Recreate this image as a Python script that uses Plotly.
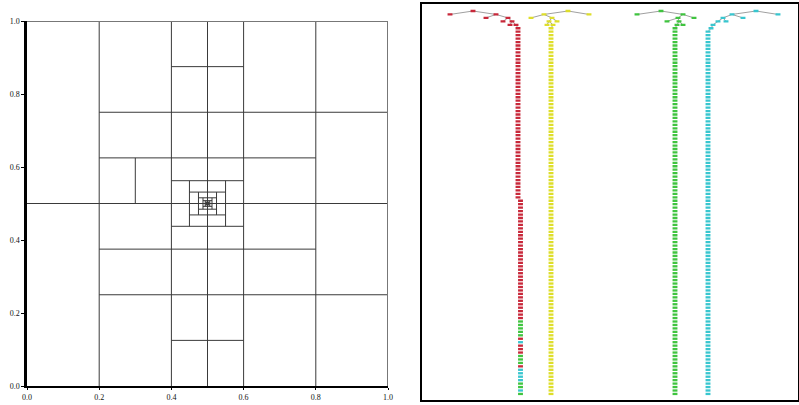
import plotly.graph_objects as go

# ---------------- left panel: partition segments ----------------
vert_x  = [0.2, 0.4, 0.5, 0.6, 0.8, 0.3, 0.45, 0.55, 0.475, 0.525, 0.4875, 0.5125,
           0.49375, 0.50625, 0.496875, 0.503125, 0.4984375, 0.5015625]
vert_y0 = [0, 0, 0, 0, 0, 0.5, 0.4375, 0.4375, 0.46875, 0.46875, 0.484375, 0.484375,
           0.4921875, 0.4921875, 0.49609375, 0.49609375, 0.498046875, 0.498046875]
vert_y1 = [1, 1, 1, 1, 1, 0.625, 0.5625, 0.5625, 0.53125, 0.53125, 0.515625, 0.515625,
           0.5078125, 0.5078125, 0.50390625, 0.50390625, 0.501953125, 0.501953125]

horiz_y  = [0.5, 0.75, 0.25, 0.625, 0.375, 0.875, 0.125, 0.5625, 0.4375, 0.53125, 0.46875,
            0.515625, 0.484375, 0.5078125, 0.4921875, 0.50390625, 0.49609375,
            0.501953125, 0.498046875]
horiz_x0 = [0, 0.2, 0.2, 0.2, 0.2, 0.4, 0.4, 0.4, 0.4, 0.45, 0.45, 0.475, 0.475,
            0.4875, 0.4875, 0.49375, 0.49375, 0.496875, 0.496875]
horiz_x1 = [1, 1, 1, 0.8, 0.8, 0.6, 0.6, 0.6, 0.6, 0.55, 0.55, 0.525, 0.525,
            0.5125, 0.5125, 0.50625, 0.50625, 0.503125, 0.503125]

tick_vals = [0.0, 0.2, 0.4, 0.6, 0.8, 1.0]
tick_text = ["0.0", "0.2", "0.4", "0.6", "0.8", "1.0"]

# ---------------- right panel: tree (x position, depth) ----------------
# fan nodes: name -> (x, depth, parent)
red_nodes = {"r0": (473, 0, None), "r1": (450, 1, "r0"), "r2": (496, 1, "r0"),
             "r3": (486, 2, "r2"), "r4": (508, 2, "r2"), "r5": (503, 3, "r4"),
             "r6": (512, 3, "r4"), "r7": (510, 4, "r6"), "r8": (516, 4, "r6")}
yellow_nodes = {"y0": (568, 0, None), "y1": (544, 1, "y0"), "y2": (589, 1, "y0"),
                "y3": (531, 2, "y1"), "y4": (552, 2, "y1"), "y5": (549, 3, "y4"),
                "y6": (557, 3, "y4"), "y7": (547, 4, "y5"), "y8": (553, 4, "y5")}
green_nodes = {"g0": (661, 0, None), "g1": (637, 1, "g0"), "g2": (683, 1, "g0"),
               "g3": (678, 2, "g2"), "g4": (694, 2, "g2"), "g5": (667, 3, "g3"),
               "g6": (679, 3, "g3"), "g7": (677, 4, "g6"), "g8": (683, 4, "g6")}
cyan_nodes = {"c0": (756, 0, None), "c1": (732, 1, "c0"), "c2": (778, 1, "c0"),
              "c3": (723, 2, "c1"), "c4": (743, 2, "c1"), "c5": (718, 3, "c3"),
              "c6": (726, 3, "c3"), "c7": (713, 4, "c5"), "c8": (711, 5, "c7")}

# chains: (parent node, x, first depth, last depth)
red_chain = [("r8", 518, 5, 54), (None, 520.5, 55, 111)]
yellow_chain = [("y8", 551, 5, 111)]
green_chain = [("g7", 675, 5, 111)]
cyan_chain = [("c8", 708, 6, 111)]

# colour runs of the red chain (from top), counts of nodes
red_chain_runs = [("red", 85), ("green", 5), ("red", 1), ("cyan", 1), ("red", 3),
                  ("green", 3), ("red", 1), ("cyan", 4), ("green", 2), ("cyan", 1), ("green", 1)]

palette = {"red": "#c8283a", "yellow": "#dede2a", "green": "#3fc43f", "cyan": "#38c6cf"}

# ---------------- layout geometry ----------------
W, H = 799, 405
L_dom_x = [27 / W, 388 / W]
L_dom_y = [1 - 386 / H, 1 - 21 / H]
R_px_x = [421.5, 797.5]
R_px_y = [4, 400]
R_dom_x = [R_px_x[0] / W, R_px_x[1] / W]
R_dom_y = [1 - R_px_y[1] / H, 1 - R_px_y[0] / H]
px_per_depth = 3.45
root_px = 11

fig = go.Figure()

# partition lines
sx, sy = [], []
for x, a, b in zip(vert_x, vert_y0, vert_y1):
    sx += [x, x, None]
    sy += [a, b, None]
for y, a, b in zip(horiz_y, horiz_x0, horiz_x1):
    sx += [a, b, None]
    sy += [y, y, None]
fig.add_trace(go.Scatter(x=sx, y=sy, mode="lines", line=dict(color="#3a3a3a", width=1),
                         hoverinfo="skip", showlegend=False, xaxis="x", yaxis="y"))
# frame top / right (light grey)
fig.add_trace(go.Scatter(x=[0, 1, 1], y=[1, 1, 0], mode="lines",
                         line=dict(color="#777777", width=2),
                         hoverinfo="skip", showlegend=False, xaxis="x", yaxis="y"))

# tree
ex, ey = [], []
for nodes, chains, cname in [(red_nodes, red_chain, "red"), (yellow_nodes, yellow_chain, "yellow"),
                             (green_nodes, green_chain, "green"), (cyan_nodes, cyan_chain, "cyan")]:
    for k, (x, d, p) in nodes.items():
        if p is not None:
            px, pd, _ = nodes[p]
            ex += [px, x, None]
            ey += [pd, d, None]
    par = chains[0][0]
    px, pd, _ = nodes[par]
    ex += [px, chains[0][1], None]
    ey += [pd, chains[0][2], None]
fig.add_trace(go.Scatter(x=ex, y=ey, mode="lines", line=dict(color="#a0a0a0", width=1),
                         hoverinfo="skip", showlegend=False, xaxis="x2", yaxis="y2"))

for nodes, chains, cname in [(red_nodes, red_chain, "red"), (yellow_nodes, yellow_chain, "yellow"),
                             (green_nodes, green_chain, "green"), (cyan_nodes, cyan_chain, "cyan")]:
    nx = [v[0] for v in nodes.values()]
    ny = [v[1] for v in nodes.values()]
    cols = [palette[cname]] * len(nx)
    for _, x, d0, d1 in chains:
        for d in range(d0, d1 + 1):
            nx.append(x)
            ny.append(d)
    n_fan = len(nodes)
    n_chain = len(nx) - n_fan
    if cname == "red":
        ccols = []
        for c, n in red_chain_runs:
            ccols += [palette[c]] * n
        ccols = (ccols + [palette["red"]] * n_chain)[:n_chain]
    else:
        ccols = [palette[cname]] * n_chain
    cols += ccols
    fig.add_trace(go.Scatter(x=nx, y=ny, mode="markers",
                             marker=dict(symbol="line-ew", size=3.5, color=cols,
                                         line=dict(color=cols, width=2.3)),
                             hoverinfo="skip", showlegend=False, xaxis="x2", yaxis="y2"))

tickfont = dict(family="Liberation Serif", size=8, color="#111111")
fig.update_layout(
    width=W, height=H, margin=dict(l=0, r=0, t=0, b=0, autoexpand=False),
    paper_bgcolor="white", plot_bgcolor="white",
    xaxis=dict(domain=L_dom_x, range=[0, 1], tickvals=tick_vals, ticktext=tick_text,
               showgrid=False, zeroline=False, showline=True, linecolor="black", linewidth=2,
               ticks="outside", ticklen=2, tickcolor="black", tickfont=tickfont, anchor="y",
               automargin=False),
    yaxis=dict(domain=L_dom_y, range=[0, 1], tickvals=tick_vals, ticktext=tick_text,
               showgrid=False, zeroline=False, showline=True, linecolor="black", linewidth=2.5,
               ticks="outside", ticklen=3, tickcolor="black", tickfont=tickfont, anchor="x",
               automargin=False),
    xaxis2=dict(domain=R_dom_x, range=R_px_x, visible=True, showticklabels=False, ticks="",
                showgrid=False, zeroline=False, showline=True, mirror=True,
                linecolor="black", linewidth=2, anchor="y2", automargin=False),
    yaxis2=dict(domain=R_dom_y,
                range=[(R_px_y[1] - root_px) / px_per_depth, (R_px_y[0] - root_px) / px_per_depth],
                showticklabels=False, ticks="", showgrid=False, zeroline=False,
                showline=True, mirror=True, linecolor="black", linewidth=2, anchor="x2",
                automargin=False),
)

fig.write_html("out.html", config={"displayModeBar": False},
               post_script="document.body.style.margin='0';document.body.style.padding='0';")
